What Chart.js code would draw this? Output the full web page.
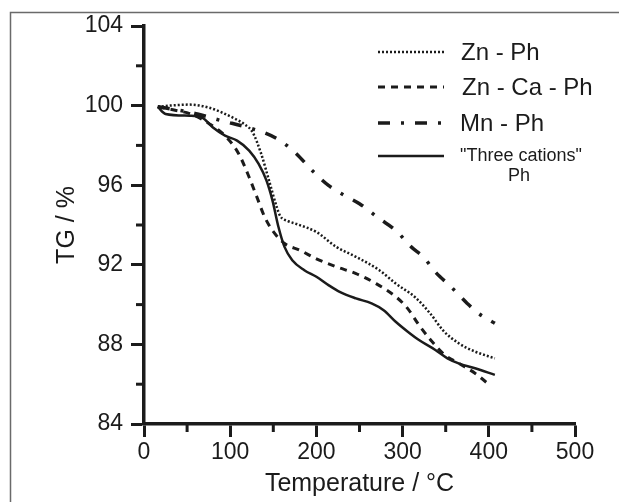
<!DOCTYPE html>
<html>
<head>
<meta charset="utf-8">
<script src="https://cdn.jsdelivr.net/npm/chart.js@4.4.1/dist/chart.umd.min.js"></script>
<style>
    html, body { margin: 0; padding: 0; background: #fff; }
    #wrap { width: 619px; height: 502px; }
</style>
</head>
<body>
<div id="wrap"><canvas id="tgChart" width="619" height="502"></canvas></div>
<script>
// data (temperature in °C, mass in %)
let znPhT = [16, 30, 53, 75, 90, 105, 117, 126, 136, 145, 154, 158, 167, 177, 200, 223, 246, 273, 292, 315, 333, 347, 365, 384, 407]
let znPhTG = [99.94, 100.0, 100.05, 99.9, 99.66, 99.35, 99.05, 98.66, 97.57, 96.24, 94.9, 94.45, 94.2, 94.05, 93.65, 92.9, 92.4, 91.73, 91.06, 90.35, 89.5, 88.7, 88.06, 87.64, 87.3]

let znCaPhT = [16, 39, 53, 76, 96, 110, 122, 131, 140, 149, 163, 181, 200, 223, 246, 269, 292, 306, 319, 333, 349, 365, 384, 402]
let znCaPhTG = [99.94, 99.74, 99.6, 99.08, 98.4, 97.57, 96.4, 95.4, 94.4, 93.73, 93.07, 92.73, 92.3, 91.9, 91.56, 91.06, 90.4, 89.8, 88.97, 88.2, 87.47, 87.05, 86.55, 85.92]

let mnPhT = [16, 44, 62, 90, 117, 138, 158, 177, 195, 214, 232, 250, 273, 292, 310, 324, 338, 356, 375, 388, 407]
let mnPhTG = [99.94, 99.74, 99.58, 99.24, 98.94, 98.66, 98.24, 97.57, 96.74, 95.99, 95.5, 95.07, 94.32, 93.73, 92.9, 92.4, 91.64, 90.9, 90.06, 89.56, 89.06]

let threeT = [16, 25, 53, 67, 80, 94, 108, 122, 133, 142, 149, 156, 163, 172, 186, 200, 214, 227, 246, 264, 278, 292, 306, 319, 338, 352, 365, 384, 407]
let threeTG = [99.94, 99.58, 99.49, 99.41, 98.9, 98.49, 98.24, 97.74, 97.07, 96.24, 95.24, 93.9, 92.9, 92.23, 91.73, 91.4, 90.98, 90.64, 90.31, 90.06, 89.72, 89.14, 88.64, 88.22, 87.72, 87.3, 87.05, 86.8, 86.47]

let seriesNames = ['Zn - Ph', 'Zn - Ca - Ph', 'Mn - Ph', '"Three cations"', 'Ph']
let xTicks = [0, 100, 200, 300, 400, 500]
let yTicks = [84, 88, 92, 96, 100, 104]

function toPoints(xs, ys) {
    let pts = []
    for (let i = 0; i < xs.length; i++) {
        pts.push({ x: xs[i], y: ys[i] })
    }
    return pts
}

const ink = '#1b1b1b'

// grey frame round the figure
const framePlugin = {
    id: 'frame',
    beforeDraw(chart) {
        const ctx = chart.ctx
        ctx.save()
        ctx.strokeStyle = '#6a6a6a'
        ctx.lineWidth = 1.5
        ctx.beginPath()
        ctx.moveTo(10.5, 502)
        ctx.lineTo(10.5, 12.5)
        ctx.lineTo(619, 12.5)
        ctx.stroke()
        ctx.restore()
    }
}

// short ticks between the labelled ones
const minorTicks = {
    id: 'minorTicks',
    afterDraw(chart) {
        const ctx = chart.ctx
        const xs = chart.scales.x
        const ys = chart.scales.y
        ctx.save()
        ctx.strokeStyle = ink
        ctx.lineWidth = 3
        ys.ticks.forEach(t => {
            if (yTicks.includes(t.value)) return
            let py = ys.getPixelForValue(t.value)
            ctx.beginPath()
            ctx.moveTo(ys.right - 8, py)
            ctx.lineTo(ys.right, py)
            ctx.stroke()
        })
        xs.ticks.forEach(t => {
            if (xTicks.includes(t.value)) return
            let px = xs.getPixelForValue(t.value)
            ctx.beginPath()
            ctx.moveTo(px, xs.top)
            ctx.lineTo(px, xs.top + 8)
            ctx.stroke()
        })
        ctx.restore()
    }
}

// legend in the upper right, drawn with each dataset's own dash
const sideLegend = {
    id: 'sideLegend',
    afterDraw(chart) {
        const ctx = chart.ctx
        const rows = [52, 87, 123, 156]
        ctx.save()
        chart.data.datasets.forEach((ds, i) => {
            ctx.strokeStyle = ink
            ctx.lineWidth = ds.borderWidth
            ctx.setLineDash(ds.borderDash || [])
            ctx.beginPath()
            ctx.moveTo(378, rows[i])
            ctx.lineTo(444, rows[i])
            ctx.stroke()
        })
        ctx.setLineDash([])
        ctx.fillStyle = ink
        ctx.textBaseline = 'middle'
        ctx.font = '24px "Liberation Sans", Arial, sans-serif'
        ctx.textAlign = 'left'
        ctx.fillText(seriesNames[0], 461, rows[0] + 1)
        ctx.fillText(seriesNames[1], 462, rows[1] + 1)
        ctx.fillText(seriesNames[2], 460, rows[2] + 1)
        ctx.font = '18px "Liberation Sans", Arial, sans-serif'
        ctx.textAlign = 'center'
        ctx.fillText(seriesNames[3], 521, rows[3])
        ctx.fillText(seriesNames[4], 519, rows[3] + 20)
        ctx.restore()
    }
}

const chart = document.getElementById('tgChart')
let tgChart = new Chart(chart, {
    type: 'line',
    data: {
        datasets: [{
            label: seriesNames[0],
            data: toPoints(znPhT, znPhTG),
            borderColor: ink,
            borderWidth: 2.5,
            borderDash: [2, 2],
            pointRadius: 0,
            cubicInterpolationMode: 'monotone'
        }, {
            label: seriesNames[1],
            data: toPoints(znCaPhT, znCaPhTG),
            borderColor: ink,
            borderWidth: 3,
            borderDash: [7, 6],
            pointRadius: 0,
            cubicInterpolationMode: 'monotone'
        }, {
            label: seriesNames[2],
            data: toPoints(mnPhT, mnPhTG),
            borderColor: ink,
            borderWidth: 3.5,
            borderDash: [12, 11, 3, 11],
            pointRadius: 0,
            cubicInterpolationMode: 'monotone'
        }, {
            label: seriesNames[3],
            data: toPoints(threeT, threeTG),
            borderColor: ink,
            borderWidth: 2.5,
            pointRadius: 0,
            cubicInterpolationMode: 'monotone'
        }]
    },
    options: {
        responsive: false,
        animation: false,
        devicePixelRatio: 1,
        layout: { padding: { left: 0, top: 26, right: 44, bottom: 0 } },
        plugins: {
            legend: { display: false },
            tooltip: { enabled: false }
        },
        scales: {
            x: {
                type: 'linear',
                min: 0,
                max: 500,
                afterFit: s => { s.height = 78 },
                ticks: {
                    stepSize: 50,
                    color: ink,
                    padding: 2,
                    maxRotation: 0,
                    autoSkip: false,
                    font: { family: '"Liberation Sans", Arial, sans-serif', size: 23 },
                    callback: v => xTicks.includes(v) ? v : ''
                },
                grid: {
                    drawOnChartArea: false,
                    tickLength: 13,
                    tickWidth: 3,
                    tickColor: c => xTicks.includes(c.tick.value) ? ink : 'rgba(0,0,0,0)'
                },
                border: { display: true, color: ink, width: 3.5 },
                title: {
                    display: true,
                    text: 'Temperature / °C',
                    color: ink,
                    padding: { top: 0, bottom: 3 },
                    font: { family: '"Liberation Sans", Arial, sans-serif', size: 25 }
                }
            },
            y: {
                min: 84,
                max: 104,
                afterFit: s => { s.width = 144 },
                ticks: {
                    stepSize: 2,
                    color: ink,
                    padding: 8,
                    autoSkip: false,
                    font: { family: '"Liberation Sans", Arial, sans-serif', size: 23 },
                    callback: v => yTicks.includes(v) ? v : ''
                },
                grid: {
                    drawOnChartArea: false,
                    tickLength: 13,
                    tickWidth: 3,
                    tickColor: c => yTicks.includes(c.tick.value) ? ink : 'rgba(0,0,0,0)'
                },
                border: { display: true, color: ink, width: 3.5 },
                title: {
                    display: true,
                    text: 'TG / %',
                    color: ink,
                    padding: { top: 52, bottom: 0 },
                    font: { family: '"Liberation Sans", Arial, sans-serif', size: 25 }
                }
            }
        }
    },
    plugins: [framePlugin, minorTicks, sideLegend]
})
</script>
</body>
</html>
